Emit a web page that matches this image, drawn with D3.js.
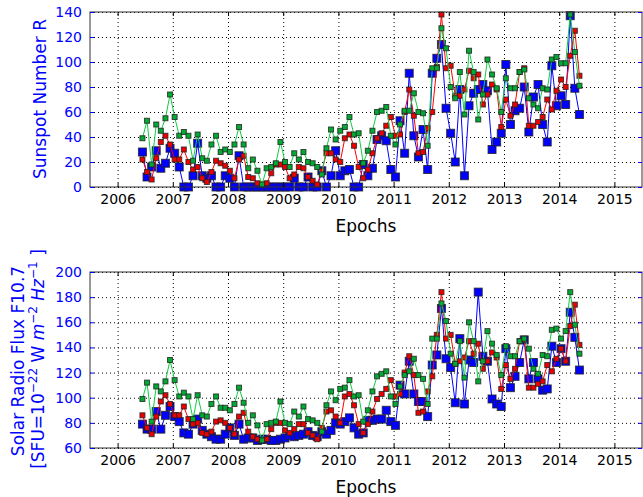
<!DOCTYPE html>
<html>
<head>
<meta charset="utf-8">
<script src="https://cdn.jsdelivr.net/npm/d3@7"></script>
<style>
body { margin: 0; background: #fff; }
svg text { font-family: "DejaVu Sans", sans-serif; }
</style>
</head>
<body>
<div id="chart"></div>
<script>
// monthly epochs, first point mid 2006
const startYear = 2006.45;
const xTicks = [2006, 2007, 2008, 2009, 2010, 2011, 2012, 2013, 2014, 2015];
const sunspotTicks = [0, 20, 40, 60, 80, 100, 120, 140];
const fluxTicks = [60, 80, 100, 120, 140, 160, 180, 200];

// top panel: sunspot number R
const sunspotBlue = [28,8,16,29,15,19,31,27,16,0,0,9,35,9,7,9,0,0,9,7,0,25,0,0,0,
  0,0,0,0,0,0,0,0,
  7,0,0,8,0,0,13,0,9,29,9,13,14,0,0,
  18,9,15,38,41,37,14,8,53,27,91,41,24,46,14,91,103,
  114,63,43,20,78,9,65,75,78,82,77,30,36,43,98,50,61,63,80,44,72,82,50,36,97,65,73,66,137,79,58];
const sunspotRed = [22,12,6,23,36,41,34,22,22,30,20,14,16,7,4,12,21,19,17,13,7,22,25,8,7,3,2,3,11,18,18,16,7,10,16,15,8,5,
  2,13,27,27,22,20,39,42,33,16,7,14,27,39,43,49,56,41,42,60,78,57,27,28,47,60,96,
  138,95,97,73,73,78,93,87,90,66,74,82,78,48,70,57,66,92,95,49,49,52,56,70,62,77,86,80,105,125,89];
const sunspotGreen = [39,53,18,50,45,55,74,56,41,44,41,21,42,23,21,34,41,28,30,28,34,48,34,15,22,13,2,15,16,19,36,20,16,27,22,28,20,19,16,10,31,46,38,45,48,56,42,43,
  19,29,45,60,61,64,41,34,50,61,61,75,60,59,33,95,95,127,111,80,71,92,58,109,92,54,74,102,90,79,60,87,79,79,92,94,71,66,63,79,78,102,104,99,99,138,108,81];

// bottom panel: solar radio flux F10.7
const fluxBlue = [79,75,75,89,75,86,93,85,81,72,71,79,83,74,71,69,67,67,71,76,70,79,
  67,68,68,66,67,67,66,66,67,68,70,69,70,71,73,70,69,73,71,74,80,79,81,84,76,71,
  72,82,82,83,83,90,81,78,110,103,129,103,97,97,85,126,134,171,131,124,96,147,95,130,128,184,133,129,99,95,93,139,108,117,128,146,115,128,115,106,107,141,128,139,129,168,148,122];
const fluxRed = [86,76,71,85,97,102,95,86,86,93,83,79,80,72,71,73,81,82,80,76,71,85,88,73,69,67,66,67,75,80,80,74,72,75,79,79,72,70,
  67,76,89,90,85,80,101,103,94,79,72,79,89,99,103,107,114,101,103,120,133,118,88,89,105,117,150,
  184,147,150,127,129,132,145,135,143,123,129,136,132,107,126,115,123,145,146,108,108,111,113,126,121,131,139,129,157,174,142];
const fluxGreen = [99,112,81,109,105,113,130,114,101,104,101,83,102,86,85,95,101,92,92,90,95,108,96,80,86,78,66,79,80,81,97,80,79,89,85,93,83,82,80,73,94,105,98,107,108,114,101,102,
  81,90,105,117,119,121,101,95,109,118,121,131,118,115,95,147,147,175,161,135,127,145,116,160,145,113,129,153,143,134,118,141,133,133,145,147,139,123,119,134,133,154,155,147,153,184,158,135];

const width = 643, height = 497;
const margin = {left: 90, right: 1};
const svg = d3.select("#chart").append("svg")
    .attr("width", width)
    .attr("height", height);

const xScale = d3.scaleLinear().domain([2005.5, 2015.5]).range([margin.left, width - margin.right]);

function toPoints(values) {
    return values.map((v, i) => ({t: startYear + i / 12, v: v}));
}

function drawPanel(top, bottom, yDomain, yTicks, series) {
    const yScale = d3.scaleLinear().domain(yDomain).range([bottom, top]);
    const plotW = xScale.range()[1] - xScale.range()[0];
    const plotH = bottom - top;
    const g = svg.append("g");

    // dotted grid
    g.append("g")
        .attr("transform", `translate(0,${bottom})`)
        .call(d3.axisBottom(xScale).tickValues(xTicks).tickSize(-plotH).tickFormat(""))
        .call(a => a.select(".domain").remove())
        .call(a => a.selectAll("line").attr("stroke", "#000").attr("stroke-dasharray", "1,3"));
    g.append("g")
        .attr("transform", `translate(${margin.left},0)`)
        .call(d3.axisLeft(yScale).tickValues(yTicks).tickSize(-plotW).tickFormat(""))
        .call(a => a.select(".domain").remove())
        .call(a => a.selectAll("line").attr("stroke", "#000").attr("stroke-dasharray", "1,3"));

    const clip = "clip" + top;
    svg.append("clipPath").attr("id", clip)
        .append("rect").attr("x", margin.left).attr("y", top - 6).attr("width", plotW).attr("height", plotH + 12);

    const line = d3.line().x(d => xScale(d.t)).y(d => yScale(d.v));
    const layer = g.append("g").attr("clip-path", `url(#${clip})`);
    series.forEach(s => {
        const pts = toPoints(s.values);
        layer.append("path")
            .datum(pts)
            .attr("fill", "none")
            .attr("stroke", s.line)
            .attr("stroke-width", 1)
            .attr("d", line);
        layer.selectAll(null)
            .data(pts)
            .enter().append("rect")
            .attr("x", d => xScale(d.t) - s.size / 2)
            .attr("y", d => yScale(d.v) - s.size / 2)
            .attr("width", s.size)
            .attr("height", s.size)
            .attr("fill", s.fill)
            .attr("stroke", "#222")
            .attr("stroke-opacity", 0.8)
            .attr("stroke-width", 1);
    });

    // frame and inward ticks
    g.append("rect")
        .attr("x", margin.left).attr("y", top)
        .attr("width", plotW).attr("height", plotH)
        .attr("fill", "none").attr("stroke", "#333").attr("stroke-width", 1);

    const xAxis = g.append("g")
        .attr("transform", `translate(0,${bottom})`)
        .call(d3.axisBottom(xScale).tickValues(xTicks).tickFormat(d3.format("d")).tickSize(-4).tickPadding(7));
    xAxis.select(".domain").remove();
    xAxis.selectAll("text").attr("font-size", 14).attr("fill", "#000");
    xAxis.selectAll("line").attr("stroke", "#000");

    const xTop = g.append("g")
        .attr("transform", `translate(0,${top})`)
        .call(d3.axisTop(xScale).tickValues(xTicks).tickFormat("").tickSize(-4));
    xTop.select(".domain").remove();
    xTop.selectAll("line").attr("stroke", "#000");

    const yAxis = g.append("g")
        .attr("transform", `translate(${margin.left},0)`)
        .call(d3.axisLeft(yScale).tickValues(yTicks).tickSize(-4).tickPadding(8));
    yAxis.select(".domain").remove();
    yAxis.selectAll("text").attr("font-size", 14).attr("fill", "#0000ff");
    yAxis.selectAll("line").attr("stroke", "#0000ff");

    const yRight = g.append("g")
        .attr("transform", `translate(${xScale.range()[1]},0)`)
        .call(d3.axisRight(yScale).tickValues(yTicks).tickFormat("").tickSize(-4));
    yRight.select(".domain").remove();
    yRight.selectAll("line").attr("stroke", "#0000ff");

    g.append("text")
        .attr("x", (xScale.range()[0] + xScale.range()[1]) / 2)
        .attr("y", bottom + 45)
        .attr("text-anchor", "middle")
        .attr("font-size", 17)
        .text("Epochs");
    return g;
}

const blueS = {line: "#0000ff", fill: "#0000ff", size: 8};
const redS = {line: "#ff0000", fill: "#ee0000", size: 5};
const greenS = {line: "#11cc44", fill: "#00aa33", size: 5};

drawPanel(12, 187, [0, 140], sunspotTicks, [
    Object.assign({values: sunspotBlue}, blueS),
    Object.assign({values: sunspotRed}, redS),
    Object.assign({values: sunspotGreen}, greenS)
]);
drawPanel(272, 448, [60, 200], fluxTicks, [
    Object.assign({values: fluxBlue}, blueS),
    Object.assign({values: fluxRed}, redS),
    Object.assign({values: fluxGreen}, greenS)
]);

// y labels
svg.append("text")
    .attr("transform", "translate(46,99) rotate(-90)")
    .attr("text-anchor", "middle")
    .attr("font-size", 17)
    .attr("fill", "#0000ff")
    .text("Sunspot Number R");

svg.append("text")
    .attr("transform", "translate(24,361) rotate(-90)")
    .attr("text-anchor", "middle")
    .attr("font-size", 17)
    .attr("fill", "#0000ff")
    .text("Solar Radio Flux F10.7");

const lab2 = svg.append("text")
    .attr("transform", "translate(44,359) rotate(-90)")
    .attr("text-anchor", "middle")
    .attr("font-size", 17)
    .attr("fill", "#0000ff");
lab2.append("tspan").text("[SFU=10");
lab2.append("tspan").attr("dy", -7).attr("font-size", 12).text("\u221222");
lab2.append("tspan").attr("dy", 7).text(" W ");
lab2.append("tspan").attr("font-style", "italic").text("m");
lab2.append("tspan").attr("dy", -7).attr("font-size", 12).text("\u22122");
lab2.append("tspan").attr("dy", 7).attr("font-style", "italic").text(" Hz");
lab2.append("tspan").attr("dy", -7).attr("font-size", 12).text("\u22121");
lab2.append("tspan").attr("dy", 7).text(" ]");
</script>
</body>
</html>
